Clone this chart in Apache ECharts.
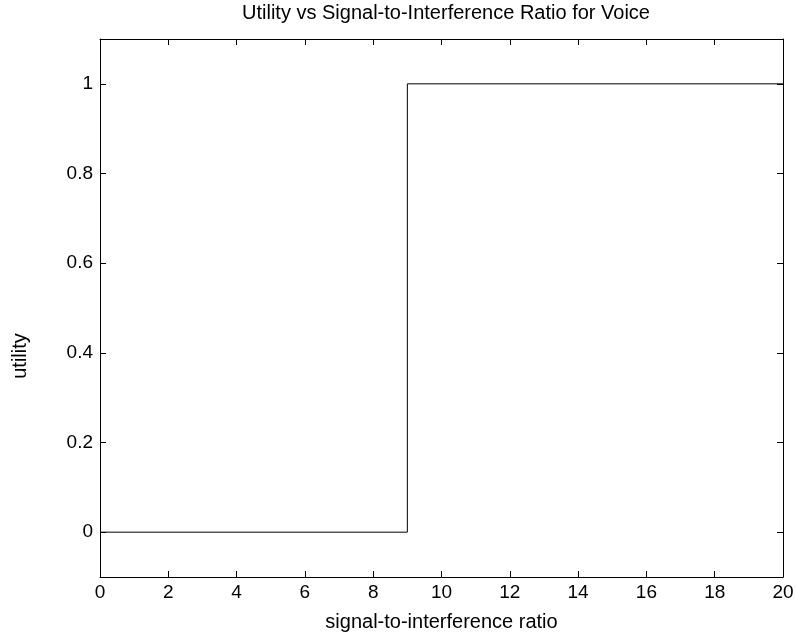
<!DOCTYPE html>
<html>
<head>
<meta charset="utf-8">
<script src="https://cdn.jsdelivr.net/npm/echarts@6/dist/echarts.min.js"></script>
<style>
  html, body { margin: 0; padding: 0; background: #fff; }
  #chart { width: 796px; height: 634px; }
</style>
</head>
<body>
<div id="chart"></div>
<script>
// step curve: utility jumps from 0 to 1 at SIR = 9
const sir = [0, 9, 9, 20]
const utility = [0, 0, 1, 1]
const xTicks = [0, 2, 4, 6, 8, 10, 12, 14, 16, 18, 20]
const yTicks = [0, 0.2, 0.4, 0.6, 0.8, 1]

const font = 'Liberation Sans, Arial, sans-serif'
const chart = echarts.init(document.getElementById('chart'))

const axisBase = {
  type: 'value',
  axisLine: { show: true, onZero: false, lineStyle: { color: '#000', width: 1 } },
  splitLine: { show: false },
  axisTick: { show: true, inside: true, length: 6, lineStyle: { color: '#000' } }
}

const option = {
  animation: false,
  title: {
    text: 'Utility vs Signal-to-Interference Ratio for Voice',
    left: 441,
    textAlign: 'center',
    top: -2,
    textStyle: { fontFamily: font, fontSize: 20, fontWeight: 'normal', color: '#000' }
  },
  grid: { left: 100, right: 13, top: 39, bottom: 57, outerBoundsMode: 'none' },
  xAxis: [
    Object.assign({}, axisBase, {
      min: 0, max: 20, interval: 2,
      position: 'bottom',
      name: 'signal-to-interference ratio',
      nameLocation: 'middle',
      nameGap: 35,
      nameTextStyle: { fontFamily: font, fontSize: 20, color: '#000' },
      axisLabel: { fontFamily: font, fontSize: 19, color: '#000', margin: 6 }
    }),
    Object.assign({}, axisBase, {
      min: 0, max: 20, interval: 2,
      position: 'top',
      axisLabel: { show: false }
    })
  ],
  yAxis: [
    Object.assign({}, axisBase, {
      min: -0.1, max: 1.1,
      position: 'left',
      name: 'utility',
      nameLocation: 'middle',
      nameGap: 70,
      // shift the label down to where the reference puts it
      nameTextStyle: { fontFamily: font, fontSize: 20, color: '#000', padding: [0, 96, 0, 0] },
      axisTick: Object.assign({}, axisBase.axisTick, { customValues: yTicks }),
      axisLabel: {
        customValues: yTicks,
        fontFamily: font, fontSize: 19, color: '#000', margin: 7,
        formatter: v => String(+v.toFixed(1))
      }
    }),
    Object.assign({}, axisBase, {
      min: -0.1, max: 1.1,
      position: 'right',
      axisTick: Object.assign({}, axisBase.axisTick, { customValues: yTicks }),
      axisLabel: { show: false }
    })
  ],
  series: [{
    type: 'line',
    data: sir.map((x, i) => [x, utility[i]]),
    showSymbol: false,
    lineStyle: { color: '#000', width: 1 },
    silent: true
  }]
}

chart.setOption(option)
</script>
</body>
</html>
